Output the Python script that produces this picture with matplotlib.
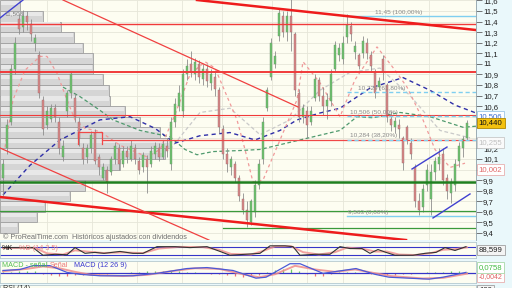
import matplotlib
matplotlib.use('Agg')
import matplotlib.pyplot as plt
import matplotlib.transforms as mtransforms
import numpy as np

plt.rcParams['font.family'] = ['Liberation Sans', 'DejaVu Sans']

W, H = 512, 288

# daily candles (one per session)
opens = [9.92, 10.2, 10.45, 10.95, 11.42, 11.35, 11.45, 11.38, 11.2, 11.08,
         10.66, 10.42, 10.48, 10.58, 10.45, 10.12, 10.55, 10.72, 10.68, 10.45,
         10.2, 10.12, 10.2, 10.35, 10.12, 9.92, 10.0, 9.98, 10.1, 10.2,
         10.05, 10.18, 10.1, 10.2, 10.08, 10.02, 10.1, 10.05, 10.15, 10.2,
         10.12, 10.22, 10.05, 10.45, 10.6, 10.55, 10.9, 11.0, 10.9, 11.0,
         10.86, 10.95, 10.82, 10.88, 10.75, 10.38, 10.15, 10.02, 10.05, 9.92,
         9.72, 9.62, 9.5, 9.6, 9.85, 10.1, 10.58, 10.88, 11.0, 11.26,
         11.45, 11.3, 11.45, 11.28, 10.72, 10.5, 10.55, 10.45, 10.68, 10.85,
         10.7, 10.6, 10.65, 10.95, 11.08, 11.05, 11.25, 11.36, 11.11, 11.08,
         11.1, 11.2, 11.08, 10.92, 10.78, 11.05, 10.8, 10.48, 10.4, 10.42,
         10.3, 10.4, 10.25, 10.02, 9.7, 9.65, 9.85, 9.72, 9.98, 10.05,
         10.15, 9.92, 9.78, 9.85, 10.08, 10.2, 10.3]
closes = [10.05, 10.42, 10.95, 11.2, 11.33, 11.45, 11.4, 11.28, 11.24, 10.72,
          10.38, 10.55, 10.58, 10.5, 10.2, 10.22, 10.72, 10.9, 10.5, 10.3,
          10.1, 10.2, 10.33, 10.08, 10.02, 10.02, 9.88, 10.1, 10.22, 10.05,
          10.18, 10.12, 10.22, 10.1, 10.0, 10.14, 10.02, 10.18, 10.22, 10.12,
          10.24, 10.18, 10.45, 10.62, 10.72, 10.9, 10.98, 10.92, 11.02, 10.88,
          10.95, 10.84, 10.9, 10.76, 10.4, 10.15, 10.05, 10.1, 9.92, 9.75,
          9.62, 9.52, 9.7, 9.85, 10.05, 10.45, 10.75, 11.2, 11.07, 11.48,
          11.3, 11.45, 11.3, 10.75, 10.5, 10.58, 10.42, 10.55, 10.86, 10.7,
          10.6, 10.66, 10.9, 11.18, 11.15, 11.2, 11.37, 11.28, 11.17, 10.98,
          11.22, 11.1, 10.98, 10.72, 10.84, 10.92, 10.5, 10.42, 10.46, 10.38,
          10.06, 10.28, 10.15, 9.7, 9.62, 9.82, 10.0, 9.98, 10.08, 10.12,
          9.9, 9.8, 9.88, 10.05, 10.22, 10.29, 10.44]
highs = [10.1, 10.48, 11.0, 11.25, 11.47, 11.508, 11.5, 11.42, 11.28, 11.12,
         10.7, 10.6, 10.62, 10.62, 10.5, 10.28, 10.75, 10.92, 10.72, 10.5,
         10.25, 10.24, 10.36, 10.38, 10.15, 10.06, 10.03, 10.13, 10.26, 10.24,
         10.22, 10.22, 10.28, 10.24, 10.12, 10.17, 10.14, 10.22, 10.26, 10.25,
         10.28, 10.3, 10.5, 10.68, 10.8, 10.95, 11.05, 11.12, 11.06, 11.04,
         11.0, 11.0, 10.95, 10.92, 10.78, 10.42, 10.2, 10.13, 10.08, 9.95,
         9.78, 9.7, 9.72, 9.9, 10.1, 10.5, 10.78, 11.24, 11.12, 11.52,
         11.5, 11.5, 11.61, 11.3, 10.76, 10.62, 10.6, 10.6, 10.9, 10.88,
         10.78, 10.72, 10.95, 11.22, 11.2, 11.26, 11.47, 11.4, 11.22, 11.1,
         11.26, 11.24, 11.12, 10.95, 10.88, 11.08, 10.82, 10.55, 10.5, 10.48,
         10.32, 10.42, 10.3, 10.05, 9.78, 9.86, 10.05, 10.05, 10.12, 10.2,
         10.2, 9.96, 9.92, 10.1, 10.26, 10.32, 10.47]
lows = [9.75, 10.15, 10.42, 10.9, 11.28, 11.3, 11.32, 11.22, 11.12, 10.68,
        10.33, 10.38, 10.45, 10.45, 10.15, 10.08, 10.5, 10.68, 10.45, 10.22,
        10.05, 10.06, 10.16, 10.05, 9.95, 9.9, 9.78, 9.95, 10.05, 10.0,
        10.02, 10.06, 10.08, 10.05, 9.96, 9.98, 9.78, 10.02, 10.1, 10.08,
        10.1, 10.12, 10.0, 10.4, 10.55, 10.5, 10.85, 10.88, 10.85, 10.82,
        10.8, 10.78, 10.75, 10.7, 10.35, 10.1, 9.98, 9.95, 9.88, 9.7,
        9.58, 9.46, 9.48, 9.55, 9.82, 10.05, 10.55, 10.85, 10.96, 11.22,
        11.25, 11.22, 11.12, 10.7, 10.45, 10.44, 10.3, 10.42, 10.65, 10.65,
        10.52, 10.48, 10.6, 10.92, 11.03, 11.0, 11.2, 11.22, 11.05, 10.95,
        11.06, 11.05, 10.92, 10.68, 10.75, 10.85, 10.45, 10.36, 10.35, 10.3,
        10.0, 10.24, 10.1, 9.65, 9.57, 9.6, 9.8, 9.57, 9.9, 10.0,
        9.85, 9.72, 9.68, 9.8, 10.02, 10.12, 10.28]
assert len(opens) == len(closes) == len(highs) == len(lows) == 117

# volume profile (price bin centre, bar length)
vp_prices = [11.55, 11.45, 11.35, 11.25, 11.15, 11.05, 10.95, 10.85, 10.75, 10.65, 10.55,
             10.45, 10.35, 10.25, 10.15, 10.05, 9.95, 9.85, 9.75, 9.65, 9.55, 9.45]
vp_volume = [20, 43, 61, 74, 83, 93, 93, 103, 109, 110, 125,
             140, 160, 170, 165, 120, 105, 85, 70, 45, 37, 18]

# moving averages (session index, price)
ma_blue_i = [0, 6.75, 14.25, 24.25, 31.75, 38, 43, 49.25, 56.75, 63, 69.25, 73.5, 79.25,
             84.25, 91.75, 100, 106.75, 113, 118.25]
ma_blue_p = [9.76, 10.04, 10.28, 10.47, 10.5, 10.39, 10.25, 10.32, 10.35, 10.28, 10.37, 10.47,
             10.535, 10.58, 10.77, 10.87, 10.75, 10.61, 10.535]
ma_green_i = [15, 19.25, 24.25, 27.5, 34.25, 41.75, 45.5, 48.5, 52.5, 59.25, 64.25, 74.25,
              84.25, 88.5, 92.5, 99.25, 106.75, 115, 118.25]
ma_green_p = [10.78, 10.69, 10.56, 10.47, 10.37, 10.31, 10.19, 10.14, 10.17, 10.18, 10.19,
              10.28, 10.37, 10.5, 10.49, 10.54, 10.5, 10.4, 10.41]
ma_pink_i = [0.5, 2.5, 5.5, 9.25, 11, 13.5, 16, 18, 20.5, 24.25, 29.25, 36, 39.25, 43, 46.75,
             50.5, 53, 58.5, 60.5, 62.5, 65, 69.25, 73.5, 75, 79.25, 84.25, 88, 93.5, 98, 101,
             105, 108, 111.75, 115.5]
ma_pink_p = [10.21, 10.66, 10.94, 11.07, 11.07, 10.91, 10.66, 10.47, 10.39, 10.36, 10.23,
             10.12, 10.19, 10.52, 10.9, 11.02, 10.96, 10.47, 10.19, 9.88, 9.9, 10.28, 10.66,
             11.02, 10.82, 10.5, 10.85, 11.16, 10.94, 10.78, 10.47, 10.19, 10.02, 10.06]
ma_gray_i = [41.75, 49.25, 56.75, 64.25, 71.75, 79.25, 86.75, 94.25, 101.75, 109.25, 116.75]
ma_gray_p = [10.19, 10.54, 10.58, 10.33, 10.47, 10.75, 10.92, 10.96, 10.7, 10.37, 10.3]

# horizontal levels
red_levels = [11.377, 10.923, 10.516]
red_level_width = [1.0, 1.4, 0.8]
red_partial_level = 10.284
green_levels = [9.882, 9.608]
green_level_width = [1.8, 0.9]
green_partial_level = 9.447

# fibonacci retracement
fib_prices = [11.45, 10.729, 10.506, 10.284, 9.563]
fib_labels = ['11,45 (100,00%)', '10,729 (61,80%)', '10,506 (50,00%)', '10,284 (38,20%)', '9,563 (0,00%)']
fib_label_i = [93, 88.75, 86.75, 86.75, 86.25]
fib_start_i = 86

# trend lines: ((i0, p0), (i1, p1))
red_thick_lines = [((48.5, 11.604), (118.25, 11.32)), ((-0.75, 9.74), (100.75, 9.333))]
red_thin_lines = [((15, 11.604), (73.75, 10.592)), ((-0.75, 10.204), (51.5, 9.333))]
blue_lines = [((-0.75, 11.434), (5, 11.604)), ((102.25, 10.005), (111, 10.213)),
              ((107.5, 9.542), (116.75, 9.769))]
red_box = (18.75, 24.75, 10.24, 10.355)

grid_sessions = [11, 22.25, 33.5, 44.75, 54.75, 67.25, 76, 85, 95.5, 106.5]
price_ticks = [9.4, 9.5, 9.6, 9.7, 9.8, 9.9, 10.0, 10.1, 10.2, 10.3, 10.4, 10.5,
               10.6, 10.7, 10.8, 10.9, 11.0, 11.1, 11.2, 11.3, 11.4, 11.5, 11.6]
# labels hidden behind the price boxes are left empty
price_tick_labels = ['9,4', '9,5', '9,6', '9,7', '9,8', '9,9', '', '10,1', '10,2', '',
                     '', '', '10,6', '10,7', '10,8', '10,9', '11', '11,1', '11,2',
                     '11,3', '11,4', '11,5', '11,6']

# stochastic %K / %D
stk_i = [0, 4.25, 7.5, 10, 13, 16, 18, 20.5, 23, 25.25, 29.25, 32.5, 35, 38.5, 43, 46.75, 51,
         54.25, 56.75, 60.5, 64.25, 66.75, 70.5, 72.5, 74.25, 78, 81.75, 84.25, 86.75, 89.75,
         91.75, 93.75, 95.75, 98, 102.5, 105.5, 108.25, 110.5, 113, 115.75]
stk_v = [78, 78, 78, 14, 22, 18, 78, 30, 38, 30, 46, 30, 30, 86, 86, 78, 86, 46, 14, 22, 30,
         93, 93, 86, 14, 22, 22, 86, 70, 70, 30, 62, 38, 14, 14, 30, 38, 78, 54, 86]
std_i = [0, 8, 11, 15, 18, 21, 25, 30, 35, 39, 44, 50, 54, 57, 62, 65, 68, 72, 75, 79, 83, 86,
         90, 93, 96, 99, 103, 107, 110, 113, 116]
std_v = [75, 76, 30, 20, 55, 45, 33, 38, 32, 70, 84, 82, 60, 25, 20, 50, 88, 90, 40, 20, 40,
         78, 68, 45, 45, 20, 16, 32, 60, 65, 80]

# MACD
macd_i = [0, 4.25, 7.5, 11.75, 16, 19.25, 24.25, 32.5, 38.5, 46, 51, 57.5, 63.25, 65.75,
          71.75, 74.25, 80, 85, 88.25, 93, 96.5, 106.5, 110, 115.75]
macd_v = [0.043, 0.059, 0.123, 0.123, 0.011, -0.021, -0.045, -0.045, -0.005, 0.075, 0.091,
          0.043, -0.085, -0.069, 0.155, 0.155, -0.005, 0.043, 0.075, -0.021, -0.069, -0.101,
          -0.069, 0.011]
sig_i = [0, 6, 10, 14, 18, 22, 30, 36, 42, 48, 54, 60, 64, 68, 73, 78, 83, 88, 92, 97, 105,
         110, 116]
sig_v = [0.03, 0.07, 0.11, 0.08, 0.02, -0.03, -0.05, -0.03, 0.03, 0.08, 0.07, -0.02, -0.07,
         -0.02, 0.12, 0.06, 0.02, 0.06, 0.01, -0.05, -0.09, -0.08, -0.01]
hist_v = [0.01, 0.02, 0.03, 0.04, 0.03,
          -0.01, -0.03, -0.05, -0.05, -0.04,
          -0.03, -0.02, -0.01, -0.01, 0.0, 0.0,
          0.01, 0.02, 0.03, 0.04, 0.04, 0.03, 0.03, 0.02,
          0.01, 0.0, -0.01, -0.02, -0.04,
          -0.05, -0.06, -0.05, -0.03,
          0.02, 0.05, 0.07, 0.06,
          0.03, -0.02, -0.05, -0.05,
          -0.02, 0.01, 0.02, 0.02,
          0.0, -0.02, -0.03, -0.04, -0.03, -0.02,
          -0.01, 0.0, 0.01, 0.02, 0.02, 0.03, 0.03, 0.02]
hist_i = list(range(0, 117, 2))

CREAM = '#fdfdf1'
GRID = '#e6e6d8'


def rect(x0, y0, x1, y1):
    return [x0 / W, 1 - y1 / H, (x1 - x0) / W, (y1 - y0) / H]


fig = plt.figure(figsize=(W / 100, H / 100), dpi=100)
fig.patch.set_facecolor('#eaf8fb')

ylo, yhi = 9.3335, 11.604
xlo, xhi = -0.75, 118.25

# background axes: grid + volume profile
ax_vp = fig.add_axes(rect(0, 0, 476, 240))
ax_vp.set_facecolor(CREAM)
ax_vp.set_xlim(0, 476)
ax_vp.set_ylim(ylo, yhi)
ax_vp.set_yticks(price_ticks)
ax_vp.set_xticks([])
ax_vp.tick_params(left=False, labelleft=False)
ax_vp.grid(axis='y', color=GRID, lw=0.6)
ax_vp.set_axisbelow(True)
for s in ax_vp.spines.values():
    s.set_visible(False)

ax = fig.add_axes(rect(0, 0, 476, 240))
ax.patch.set_visible(False)
ax.set_xlim(xlo, xhi)
ax.set_ylim(ylo, yhi)

tr_grid = mtransforms.blended_transform_factory(ax.transData, ax_vp.transAxes)
ax_vp.vlines(grid_sessions, 0, 1, transform=tr_grid, color=GRID, lw=0.6, zorder=0)

ax_vp.barh(vp_prices, vp_volume, height=0.1, left=0, color='#d5d5d5', edgecolor='#a0a0a0',
           lw=0.6, zorder=1)
ax_vp.barh(np.array(vp_prices) + 0.022, np.array(vp_volume) - 1.5, height=0.04, left=0.5,
           color='#e8e8e8', lw=0, zorder=1)

# moving averages
ax.plot(ma_gray_i, ma_gray_p, color='#c9c9c9', lw=0.9, ls=(0, (3, 2)), zorder=2)
ax.plot(ma_green_i, ma_green_p, color='#4f9a6e', lw=0.9, ls=(0, (3, 2)), zorder=2)
ax.plot(ma_blue_i, ma_blue_p, color='#2f2fa8', lw=1.0, ls=(0, (3, 2.5)), zorder=2)
ax.plot(ma_pink_i, ma_pink_p, color='#f09a9a', lw=0.9, ls=(0, (2.5, 2.5)), zorder=2)

# candles
idx = np.arange(len(closes))
o = np.array(opens)
c = np.array(closes)
up = c >= o
ax.vlines(idx, lows, highs, color='#8d8d8d', lw=0.6, zorder=3)
ax.bar(idx[up], (c - o)[up], bottom=o[up], width=0.65, color='#6cc46c',
       edgecolor='#6f8f6f', lw=0.3, zorder=4)
ax.bar(idx[~up], (o - c)[~up], bottom=c[~up], width=0.65, color='#d98686',
       edgecolor='#9a7070', lw=0.3, zorder=4)

# horizontal levels
for p, lw in zip(red_levels, red_level_width):
    ax.axhline(p, color='#f03a3a', lw=lw, zorder=5)
ax.plot([24.75, xhi], [red_partial_level] * 2, color='#f04848', lw=0.9, zorder=5)
for p, lw in zip(green_levels, green_level_width):
    ax.axhline(p, color='#1f7f1f' if lw > 1 else '#3a9a3a', lw=lw, zorder=5)
ax.plot([55, xhi], [green_partial_level] * 2, color='#3a9a3a', lw=0.9, zorder=5)

x0b, x1b, y0b, y1b = red_box
ax.plot([x0b, x0b, x1b, x1b], [y0b, y1b, y1b, y0b], color='#f04848', lw=0.9, zorder=5)

# fibonacci
for k, (p, lab, li) in enumerate(zip(fib_prices, fib_labels, fib_label_i)):
    ls = '-' if k in (0, 4) else (0, (3, 2))
    ax.plot([fib_start_i, xhi], [p, p], color='#7fcff0', lw=1.0, ls=ls, zorder=5)
    ax.text(li, p + 0.01, lab, fontsize=4.6, color='#8a8a8a', va='bottom', ha='left', zorder=6)

# trend lines
for (a, b) in red_thick_lines:
    ax.plot([a[0], b[0]], [a[1], b[1]], color='#ee1c1c', lw=1.8, zorder=5)
for (a, b) in red_thin_lines:
    ax.plot([a[0], b[0]], [a[1], b[1]], color='#f04040', lw=0.9, zorder=5)
for (a, b) in blue_lines:
    ax.plot([a[0], b[0]], [a[1], b[1]], color='#4040d0', lw=1.0, zorder=5)

ax.text(0.3, 11.47, '11,508', fontsize=4.6, color='#808080', va='center', ha='left', zorder=6)

# right axis
ax.yaxis.tick_right()
ax.set_yticks(price_ticks)
ax.set_yticklabels(price_tick_labels)
ax.tick_params(axis='y', length=4, width=0.6, color='#606060', labelsize=5.6, pad=1,
               labelcolor='#202020')
ax.set_xticks([])
for s in ['left', 'top', 'bottom']:
    ax.spines[s].set_visible(False)
ax.spines['right'].set_color('#8fa0a8')
ax.spines['right'].set_linewidth(0.6)

tr_r = mtransforms.blended_transform_factory(ax.transAxes, ax.transData)
box_style = dict(boxstyle='square,pad=0.25', lw=0.6)
ax.text(1.006, 10.506, '10,506', transform=tr_r, fontsize=5.6, color='#3b6fd0', va='center',
        ha='left', bbox=dict(fc='white', ec='#9cc6e6', **box_style), zorder=7)
ax.text(1.006, 10.44, '10,440', transform=tr_r, fontsize=5.6, color='#111111', va='center',
        ha='left', bbox=dict(fc='#f3c10f', ec='#b08800', **box_style), zorder=8)
ax.text(1.006, 10.255, '10,255', transform=tr_r, fontsize=5.6, color='#c0c0c0', va='center',
        ha='left', bbox=dict(fc='#fafafa', ec='#c8c8c8', **box_style), zorder=8)
ax.text(1.006, 10.002, '10,002', transform=tr_r, fontsize=5.6, color='#e06868', va='center',
        ha='left', bbox=dict(fc='white', ec='#e8b0b0', **box_style), zorder=8)

fig.text(3 / W, 1 - 237 / H, '\u00a9 ProRealTime.com  Hist\u00f3ricos ajustados con dividendos',
         fontsize=5.2, color='#6f6f6f', va='center', ha='left')

# stochastic panel
ax_st = fig.add_axes(rect(0, 242, 476, 258))
ax_st.set_facecolor(CREAM)
ax_st.set_xlim(xlo, xhi)
ax_st.set_ylim(-9, 125)
ax_st.axhline(80, color='#3535c8', lw=0.8)
ax_st.axhline(20, color='#3535c8', lw=0.8)
ax_st.plot(std_i, std_v, color='#f08c8c', lw=1.4, alpha=0.8)
ax_st.plot(stk_i, stk_v, color='#333333', lw=0.8)
ax_st.vlines(grid_sessions, -9, 125, color=GRID, lw=0.6, zorder=0)
ax_st.set_xticks([])
ax_st.set_yticks([])
for s in ax_st.spines.values():
    s.set_color('#b5c9cf')
    s.set_linewidth(0.6)
ax_st.text(0.004, 0.62, '%K', transform=ax_st.transAxes, fontsize=5.2, color='#111111',
           va='center', ha='left')
ax_st.text(0.04, 0.62, '%D (14 3 5)', transform=ax_st.transAxes, fontsize=5.2,
           color='#ec8a8a', va='center', ha='left')
ax_st.text(1.006, 0.5, '88,599', transform=ax_st.transAxes, fontsize=5.6, color='#222222',
           va='center', ha='left', bbox=dict(fc='#f4f4f4', ec='#a0a0a0', **box_style))

# MACD panel
ax_m = fig.add_axes(rect(0, 261, 476, 283))
ax_m.set_facecolor(CREAM)
ax_m.set_xlim(xlo, xhi)
ax_m.set_ylim(-0.165, 0.2)
ax_m.vlines(grid_sessions, -0.165, 0.2, color=GRID, lw=0.6, zorder=0)
hv = np.array(hist_v)
hi = np.array(hist_i)
ax_m.vlines(hi[hv >= 0], 0, hv[hv >= 0], color='#66cc66', lw=0.9)
ax_m.vlines(hi[hv < 0], 0, hv[hv < 0], color='#ee7070', lw=0.9)
ax_m.axhline(0, color='#3535c8', lw=0.9)
ax_m.plot(sig_i, sig_v, color='#f08c8c', lw=1.4, alpha=0.85)
ax_m.plot(macd_i, macd_v, color='#4a5ad8', lw=0.9)
ax_m.set_xticks([])
ax_m.set_yticks([])
for s in ax_m.spines.values():
    s.set_color('#b5c9cf')
    s.set_linewidth(0.6)
ax_m.text(0.004, 0.78, 'MACD - se\u00f1al', transform=ax_m.transAxes, fontsize=5.2,
          color='#55c055', va='center', ha='left')
ax_m.text(0.105, 0.78, 'Se\u00f1al', transform=ax_m.transAxes, fontsize=5.2,
          color='#ec7a7a', va='center', ha='left')
ax_m.text(0.155, 0.78, 'MACD (12 26 9)', transform=ax_m.transAxes, fontsize=5.2,
          color='#3a3ad0', va='center', ha='left')
ax_m.text(1.006, 0.3, '-0,0042', transform=ax_m.transAxes, fontsize=5.0, color='#e06060',
          va='center', ha='left', bbox=dict(fc='white', ec='#e8b0b0', **box_style))
ax_m.text(1.006, 0.72, '0,0758', transform=ax_m.transAxes, fontsize=5.6, color='#44bb44',
          va='center', ha='left', bbox=dict(fc='white', ec='#a8d8a8', **box_style))

# RSI panel (cut by the bottom edge)
ax_r = fig.add_axes(rect(0, 285, 476, 305))
ax_r.set_facecolor(CREAM)
ax_r.set_xticks([])
ax_r.set_yticks([])
for s in ax_r.spines.values():
    s.set_color('#b5c9cf')
    s.set_linewidth(0.6)
fig.text(3 / W, 1 - 289 / H, 'RSI (14)', fontsize=5.2, color='#333333', va='center', ha='left')
fig.text(479 / W, 1 - 290 / H, '100', fontsize=5.6, color='#222222', va='center', ha='left',
         bbox=dict(fc='#f4f4f4', ec='#a0a0a0', **box_style))

fig.savefig('out.png', dpi=100, facecolor=fig.get_facecolor())
